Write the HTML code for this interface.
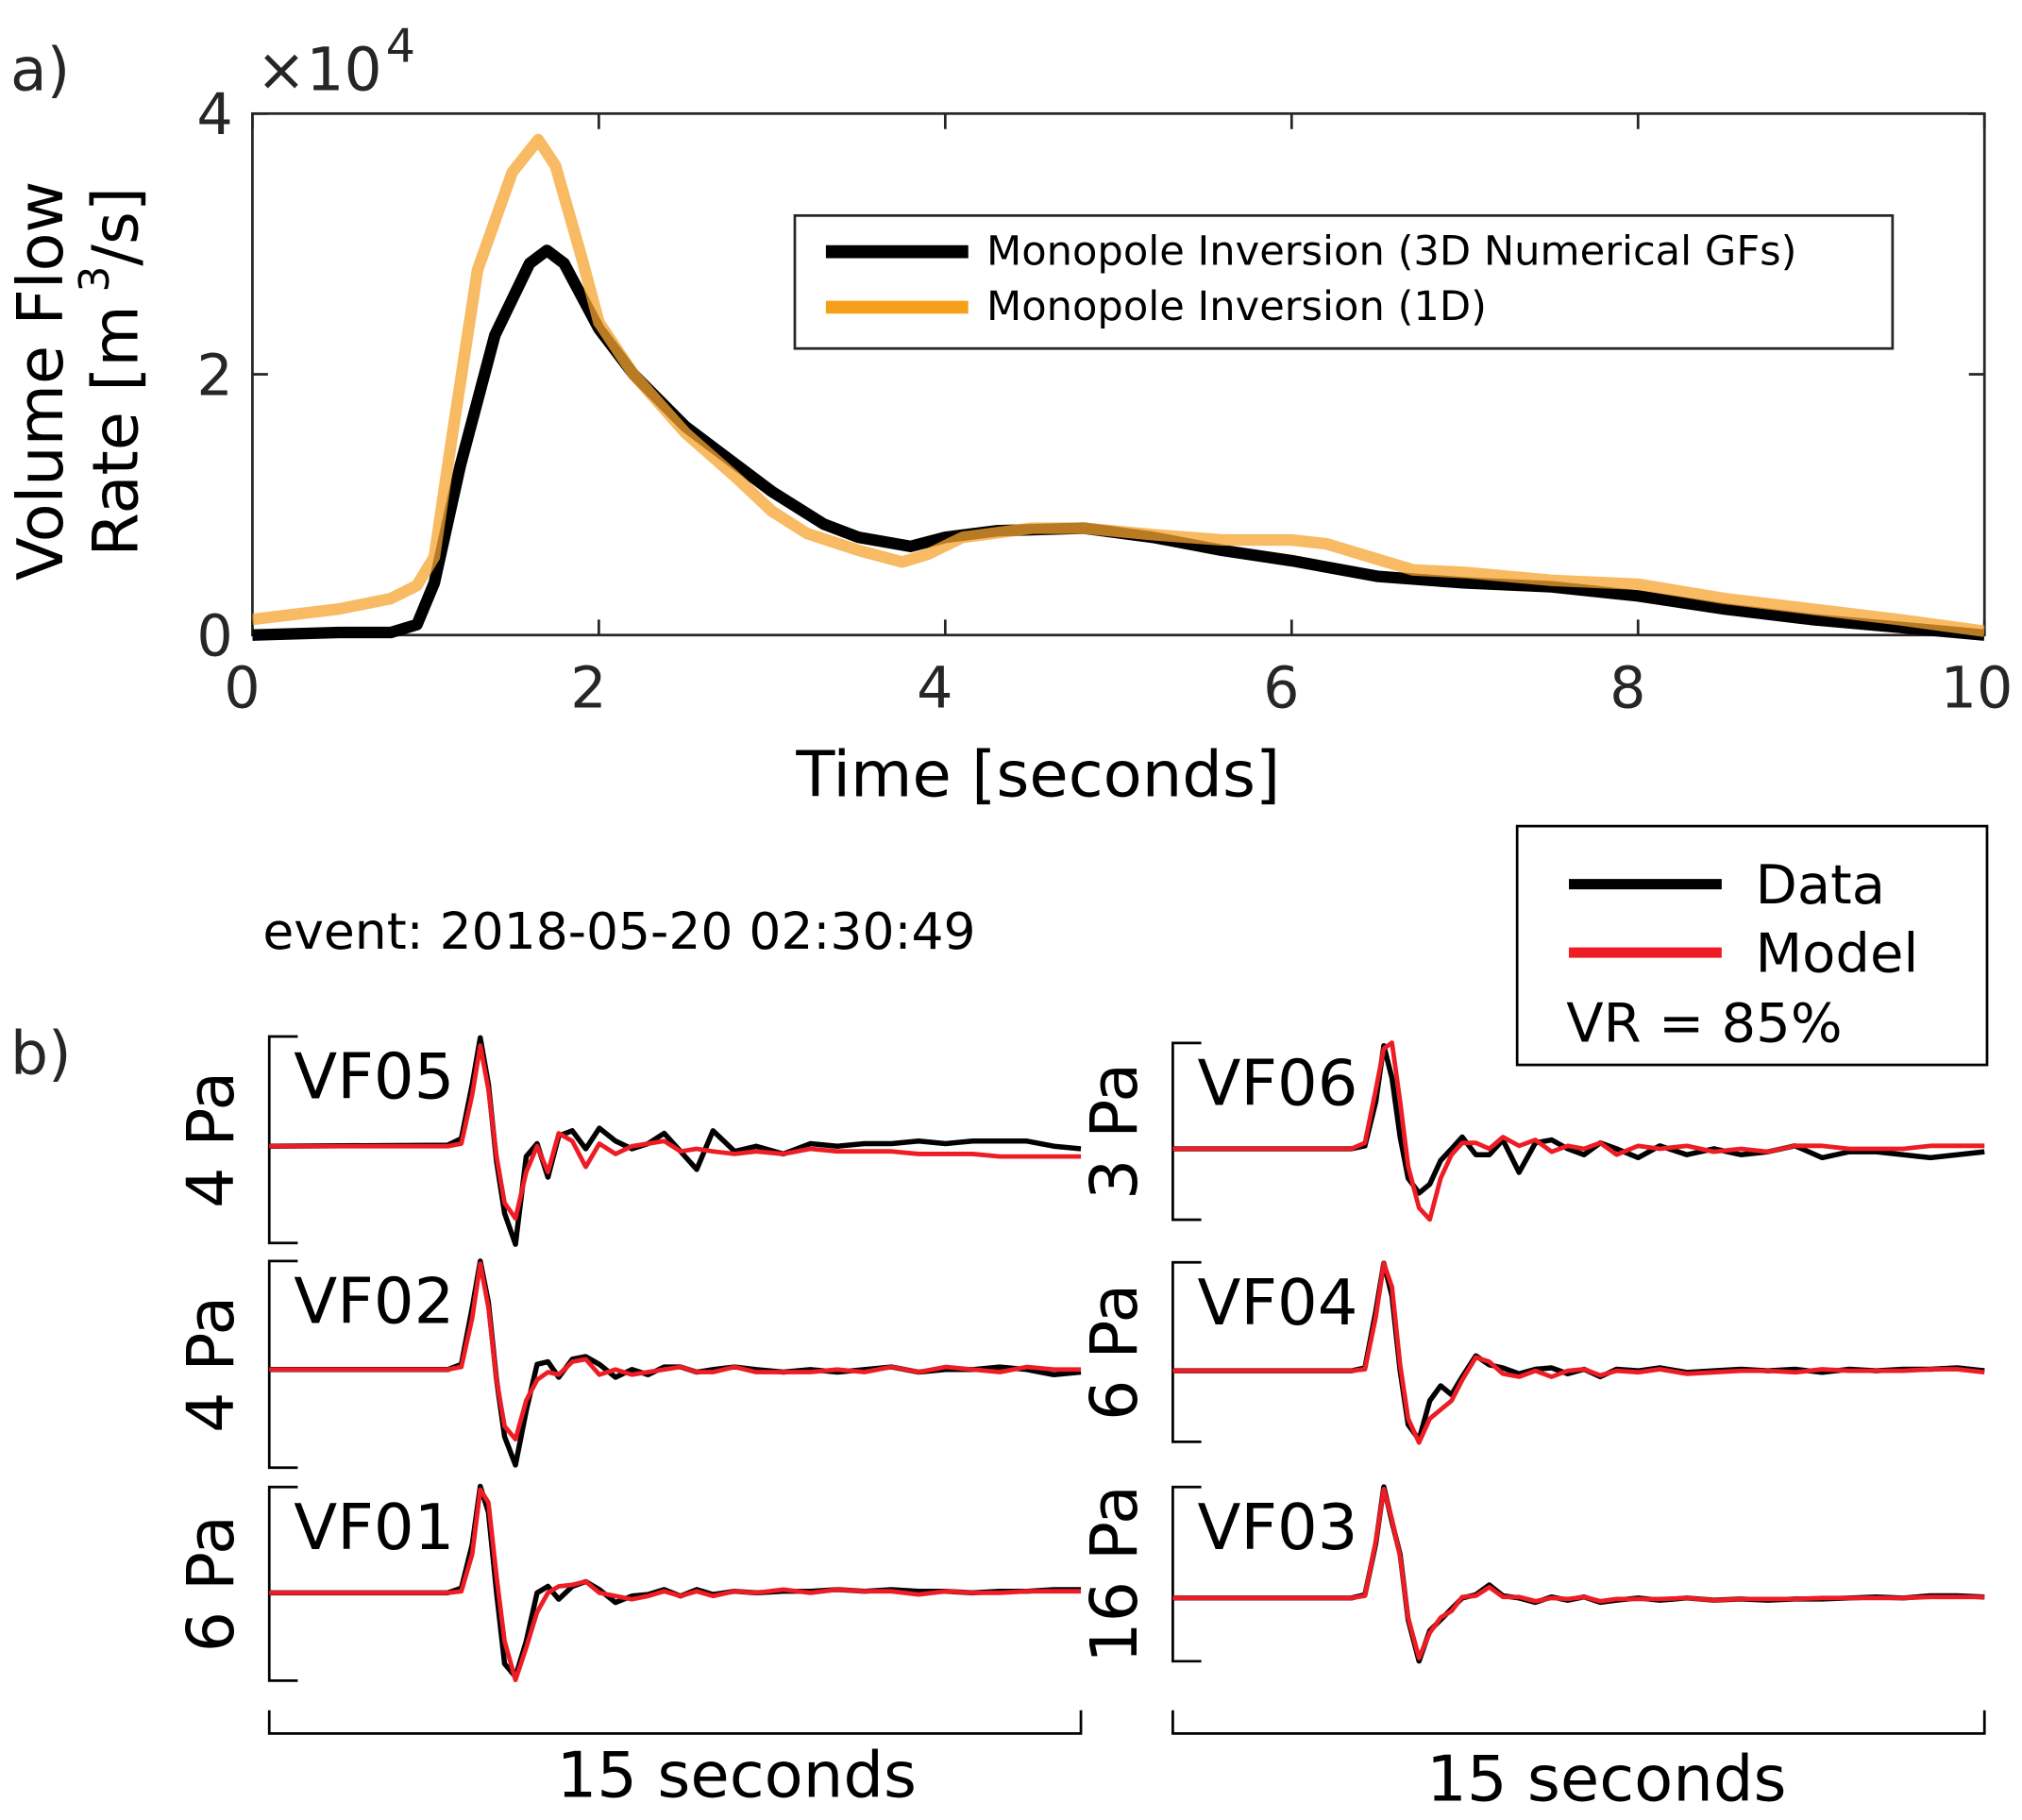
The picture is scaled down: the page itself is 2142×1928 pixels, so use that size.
<!DOCTYPE html>
<html><head><meta charset="utf-8"><style>
html,body{margin:0;padding:0;background:#fff;}
svg{display:block;font-family:"DejaVu Sans","Liberation Sans",sans-serif;}
</style></head><body>
<svg id="fig" width="2142" height="1928" viewBox="0 0 1562 1410" preserveAspectRatio="none"></svg>
<script>
// ---------- Panel a data ----------
const aBlackT = [0,0.5,0.8,0.95,1.05,1.2,1.4,1.6,1.7,1.8,2.0,2.2,2.5,2.8,3.0,3.3,3.5,3.8,4.0,4.3,4.8,5.2,5.6,6.0,6.5,7.0,7.5,8.0,8.5,9.0,9.5,10];
const aBlackV = [0.0,0.02,0.02,0.08,0.4,1.3,2.3,2.85,2.95,2.85,2.35,2.0,1.6,1.3,1.1,0.85,0.75,0.68,0.75,0.8,0.82,0.75,0.65,0.57,0.45,0.4,0.37,0.3,0.2,0.12,0.06,0.0];
const aOrangeT = [0,0.5,0.8,0.95,1.05,1.15,1.3,1.5,1.65,1.75,1.9,2.0,2.2,2.5,2.8,3.0,3.2,3.5,3.75,3.9,4.1,4.5,4.8,5.2,5.6,6.0,6.2,6.7,7.0,7.5,8.0,8.5,9.0,9.5,10];
const aOrangeV = [0.12,0.2,0.28,0.38,0.6,1.5,2.8,3.55,3.8,3.6,2.9,2.4,2.0,1.55,1.2,0.95,0.78,0.65,0.56,0.62,0.75,0.82,0.82,0.77,0.73,0.73,0.7,0.5,0.48,0.42,0.39,0.28,0.2,0.12,0.03];
const aXTicks = [0,2,4,6,8,10];
const aYTicks = [0,2,4];

// ---------- Panel b data ----------
const bT = [0,3.3,3.55,3.75,3.9,4.05,4.2,4.35,4.55,4.75,4.95,5.15,5.35,5.6,5.85,6.1,6.4,6.7,7.0,7.3,7.6,7.9,8.2,8.6,9.0,9.5,10,10.5,11,11.5,12,12.5,13,13.5,14,14.5,15];
const stations = ["VF05","VF06","VF02","VF04","VF01","VF03"];
const scalePa = [4,3,4,6,6,16];
const dataVF05 = [0,0.02,0.15,1.2,2.1,1.2,-0.3,-1.3,-1.9,-0.2,0.05,-0.6,0.2,0.3,-0.05,0.35,0.1,-0.05,0.05,0.25,-0.1,-0.45,0.3,-0.1,0,-0.15,0.05,0,0.05,0.05,0.1,0.05,0.1,0.1,0.1,0,-0.05];
const modelVF05 = [0,0,0.05,1.0,1.95,1.1,-0.2,-1.1,-1.4,-0.5,0,-0.5,0.25,0.1,-0.4,0.05,-0.15,0,0.05,0.1,-0.1,-0.05,-0.1,-0.15,-0.1,-0.15,-0.05,-0.1,-0.1,-0.1,-0.15,-0.15,-0.15,-0.2,-0.2,-0.2,-0.2];
const dataVF06 = [0,0,0.05,0.8,1.75,1.2,0.2,-0.5,-0.75,-0.6,-0.2,0,0.2,-0.1,-0.1,0.15,-0.4,0.1,0.15,0,-0.1,0.1,0,-0.15,0.05,-0.1,0,-0.1,-0.05,0.05,-0.15,-0.05,-0.05,-0.1,-0.15,-0.1,-0.05];
const modelVF06 = [0,0,0.1,1.0,1.7,1.8,0.8,-0.3,-1.0,-1.2,-0.5,-0.1,0.1,0.1,0,0.2,0.05,0.15,-0.05,0.05,0,0.1,-0.1,0.05,0,0.05,-0.05,0,-0.05,0.05,0.05,0,0,0,0.05,0.05,0.05];
const dataVF02 = [0,0,0.1,1.2,2.1,1.3,-0.2,-1.3,-1.85,-0.8,0.1,0.15,-0.15,0.2,0.25,0.1,-0.15,0,-0.1,0.05,0.05,-0.05,0,0.05,0,-0.05,0,-0.05,0,0.05,-0.05,0,0,0.05,0,-0.1,-0.05];
const modelVF02 = [0,0,0.05,1.0,2.05,1.2,-0.2,-1.1,-1.35,-0.6,-0.2,-0.05,-0.1,0.15,0.2,-0.1,0,-0.1,-0.05,0,0.05,-0.05,-0.05,0.05,-0.05,-0.05,-0.05,0,-0.05,0.05,-0.05,0.05,0,-0.05,0.05,0,0];
const dataVF04 = [0,0,0.1,2.0,3.6,2.5,0,-1.8,-2.3,-1.0,-0.5,-0.8,-0.2,0.5,0.2,0.1,-0.1,0.05,0.1,-0.1,0.05,-0.2,0.05,0,0.1,-0.05,0,0.05,0,0.05,-0.05,0.05,0,0.05,0.05,0.1,0];
const modelVF04 = [0,0,0.05,1.8,3.6,2.8,0.2,-1.6,-2.4,-1.6,-1.3,-1.0,-0.3,0.45,0.3,-0.1,-0.2,0,-0.2,0,0.05,-0.15,0,-0.05,0.05,-0.1,-0.05,0,0,-0.05,0.05,0,0,0,0.05,0.05,-0.05];
const dataVF01 = [0,0,0.15,1.5,3.3,2.5,0,-2.2,-2.6,-1.5,0,0.2,-0.2,0.2,0.35,0.1,-0.3,-0.1,-0.05,0.1,-0.1,0.1,-0.05,0.05,0,0.05,0.05,0.1,0.05,0.1,0.05,0.05,0,0.05,0.05,0.1,0.1];
const modelVF01 = [0,0,0.05,1.2,3.2,2.8,0.5,-1.5,-2.7,-1.7,-0.6,0,0.2,0.25,0.35,0,-0.1,-0.2,-0.1,0.05,-0.1,0.05,-0.1,0.05,0,0.1,0,0.1,0.05,0.05,-0.05,0.05,0,0,0.05,0.05,0.05];
const dataVF03 = [0,0,0.3,5,10.2,7,4,-2,-5.8,-3,-2,-1,0,0.3,1.2,0.2,0,-0.4,0.1,-0.2,0.1,-0.4,-0.2,0,-0.2,0,-0.2,-0.1,-0.2,-0.1,-0.1,0,0.1,0,0.2,0.2,0.1];
const modelVF03 = [0,0,0.2,5.2,10.0,7.2,3.8,-1.8,-5.5,-3.2,-1.8,-1.2,0.1,0.2,1.0,0.1,0.1,-0.3,0,-0.1,0.1,-0.3,-0.1,-0.1,-0.1,0,-0.2,-0.1,-0.1,-0.1,0,0,0,0,0.1,0.1,0.1];

const svg = document.getElementById('fig');
const NS = 'http://www.w3.org/2000/svg';
function mk(tag, attrs, parent){
  const e = document.createElementNS(NS, tag);
  for (const k in attrs) e.setAttribute(k, attrs[k]);
  (parent||svg).appendChild(e);
  return e;
}
function txt(s, attrs, parent){ const e = mk('text', attrs, parent); e.textContent = s; return e; }

// ---------- Panel a ----------
const AX = {l:195, r:1533, t:88, b:492};
const ax = t => AX.l + (t-0)/10*(AX.r-AX.l);
const ay = v => AX.b - v/4*(AX.b-AX.t);
const ink = '#262626';

let e;
e = txt('a)', {x:8, y:70, 'font-size':46, fill:ink});



const frame = mk('rect', {x:AX.l, y:AX.t, width:AX.r-AX.l, height:AX.b-AX.t, fill:'none', stroke:ink, 'stroke-width':2});



aXTicks.forEach(v => {
  const x = ax(v);
  const tk = mk('path', {d:`M${x},${AX.b}v-12M${x},${AX.t}v12`, stroke:ink, 'stroke-width':2});
  
  
  const lb = txt(String(v), {x: v===10 ? x-6 : x-8, y:548, 'font-size':44, fill:ink, 'text-anchor':'middle'});
  
  
});
aYTicks.forEach(v => {
  const y = ay(v);
  const tk = mk('path', {d:`M${AX.l},${y}h12M${AX.r},${y}h-12`, stroke:ink, 'stroke-width':2});
  
  
  const lb = txt(String(v), {x:180, y:y+16, 'font-size':44, fill:ink, 'text-anchor':'end'});
  
  
});
e = txt('×10', {x:198, y:70, 'font-size':46, fill:ink});


e = txt('4', {x:298, y:48, 'font-size':36, fill:ink});



const yl = mk('text', {transform:'translate(48,295) rotate(-90)', 'font-size':49, fill:'#000', 'text-anchor':'middle'});
yl.textContent = 'Volume Flow';


const yl2 = mk('text', {transform:'translate(106,288) rotate(-90)', 'font-size':49, fill:'#000', 'text-anchor':'middle'});
yl2.innerHTML = 'Rate [m<tspan dy="-22" font-size="32"> 3</tspan><tspan dy="22">/s]</tspan>';



e = txt('Time [seconds]', {x:802, y:617, 'font-size':49, fill:'#000', 'text-anchor':'middle'});



function pathFrom(T, V, fx, fy){
  return T.map((t,i)=>(i?'L':'M')+fx(t).toFixed(1)+','+fy(V[i]).toFixed(1)).join('');
}
const clipA = mk('clipPath', {id:'clipA'});
mk('rect', {x:AX.l, y:AX.t, width:AX.r-AX.l, height:AX.b-AX.t+8}, clipA);

const lineBlack = mk('path', {d:pathFrom(aBlackT,aBlackV,ax,ay), fill:'none', stroke:'#000', 'stroke-width':9, 'stroke-linejoin':'round', 'clip-path':'url(#clipA)'});


const lineOrange = mk('path', {d:pathFrom(aOrangeT,aOrangeV,ax,ay), fill:'none', stroke:'#f6a32d', 'stroke-opacity':0.75, 'stroke-width':9, 'stroke-linejoin':'round', 'clip-path':'url(#clipA)'});



const legA = mk('g', {});


mk('rect', {x:614, y:167, width:848, height:103, fill:'#fff', stroke:ink, 'stroke-width':2}, legA);
mk('path', {d:'M638,195H748', stroke:'#000', 'stroke-width':10}, legA);
mk('path', {d:'M638,238H748', stroke:'#f6a01a', 'stroke-width':10}, legA);
e = txt('Monopole Inversion (3D Numerical GFs)', {x:762, y:205, 'font-size':31.5, fill:'#000'}, legA);


e = txt('Monopole Inversion (1D)', {x:762, y:248, 'font-size':31.5, fill:'#000'}, legA);



// ---------- Panel b ----------
e = txt('b)', {x:8, y:832, 'font-size':46, fill:ink});


e = txt('event: 2018-05-20 02:30:49', {x:203, y:735, 'font-size':39, fill:'#000'});



const legB = mk('g', {});


mk('rect', {x:1172, y:640, width:363, height:185, fill:'#fff', stroke:'#000', 'stroke-width':2}, legB);
mk('path', {d:'M1212,685H1330', stroke:'#000', 'stroke-width':8}, legB);
mk('path', {d:'M1212,738H1330', stroke:'#ee1c24', 'stroke-width':8}, legB);
e = txt('Data', {x:1356, y:700, 'font-size':42, fill:'#000'}, legB);


e = txt('Model', {x:1356, y:753, 'font-size':42, fill:'#000'}, legB);


e = txt('VR = 85%', {x:1210, y:807, 'font-size':42, fill:'#000'}, legB);



const dataArr = [dataVF05,dataVF06,dataVF02,dataVF04,dataVF01,dataVF03];
const modelArr = [modelVF05,modelVF06,modelVF02,modelVF04,modelVF01,modelVF03];
// layout: [left x, bar top, bar bottom, baseline]
const layout = [
  [208,803,963,888],[906,808,945,890],
  [208,977,1137,1061],[906,978,1117,1062],
  [208,1152,1302,1234],[906,1152,1287,1238]
];
stations.forEach((st,i) => {
  const [x0, top, bot, base] = layout[i];
  const pxPerPa = (bot-top)/scalePa[i];
  const fx = t => x0 + t/15*627;
  const fy = v => base - v*pxPerPa;
  const g = mk('g', {});
  
  
  const bar = mk('path', {d:`M${x0+22},${top}H${x0}V${bot}H${x0+22}`, fill:'none', stroke:'#000', 'stroke-width':2}, g);
  
  
  const cx = x0 - 28, cy = (top+bot)/2;
  const sl = mk('text', {transform:`translate(${cx},${cy}) rotate(-90)`, 'font-size':50, fill:'#000', 'text-anchor':'middle'}, g);
  sl.textContent = scalePa[i] + ' Pa';
  
  
  const nl = txt(st, {x:x0+19, y:top+48, 'font-size':49, fill:'#000'}, g);
  
  
  const dl = mk('path', {d:pathFrom(bT,dataArr[i],fx,fy), fill:'none', stroke:'#000', 'stroke-width':4, 'stroke-linejoin':'round'}, g);
  
  
  const ml = mk('path', {d:pathFrom(bT,modelArr[i],fx,fy), fill:'none', stroke:'#ee1c24', 'stroke-width':3.5, 'stroke-linejoin':'round'}, g);
  
  
});

[[208,569,1392],[906,1241,1395]].forEach(([x0,cx,ty]) => {
  const tb = mk('path', {d:`M${x0},1325V1343H${x0+627}V1325`, fill:'none', stroke:'#000', 'stroke-width':2});
  
  
  const tl = txt('15 seconds', {x:cx, y:ty, 'font-size':49, fill:'#000', 'text-anchor':'middle'});
  
  
});
</script>
</body></html>
